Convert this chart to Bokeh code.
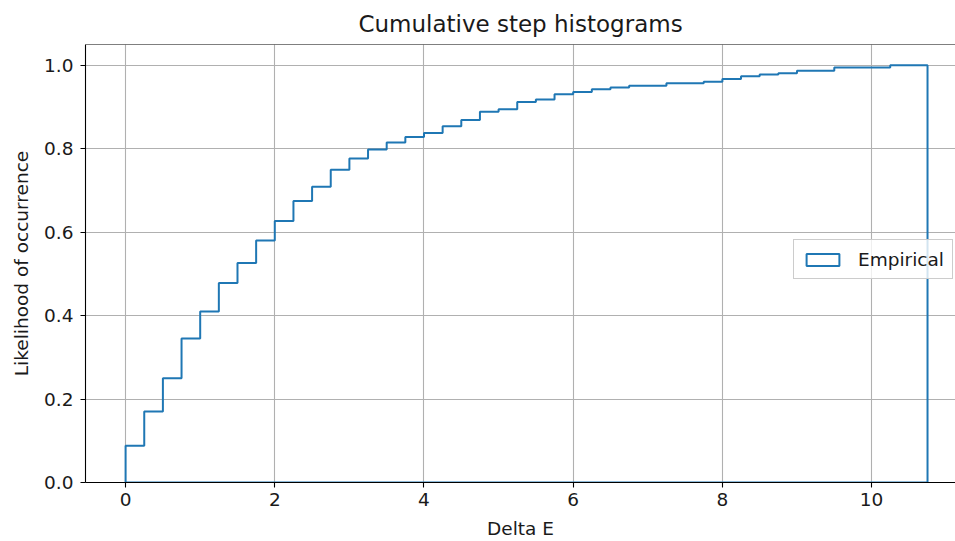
import numpy as np
from bokeh.plotting import figure
from bokeh.models import Range1d, Span, Legend, LegendItem, ColumnDataSource, FixedTicker
from bokeh.embed import file_html
from bokeh.resources import INLINE

# bin edges (width 0.25) and cumulative likelihood per bin
bin_edges = [i * 0.25 for i in range(44)]  # 0 .. 10.75
cum_values = [
    0.088, 0.170, 0.250, 0.345, 0.410, 0.478, 0.526, 0.580,
    0.627, 0.675, 0.709, 0.750, 0.777, 0.798, 0.815, 0.828,
    0.838, 0.854, 0.869, 0.889, 0.895, 0.912, 0.918, 0.931,
    0.936, 0.943, 0.947, 0.951, 0.951, 0.957, 0.957, 0.961,
    0.967, 0.974, 0.978, 0.981, 0.987, 0.987, 0.995, 0.995,
    0.995, 1.000, 1.000,
]
x_ticks = [0, 2, 4, 6, 8, 10]
y_ticks = [0.0, 0.2, 0.4, 0.6, 0.8, 1.0]

BLUE = "#1f77b4"
FONT = "DejaVu Sans"
TXT = "#1a1a1a"

edges = np.array(bin_edges)
vals = np.array(cum_values)
xs = np.repeat(edges, 2)
ys = np.concatenate([[0.0], np.repeat(vals, 2), [0.0]])

p = figure(width=955, height=541, output_backend="svg", toolbar_location=None,
           x_range=Range1d(-0.5375, 11.125), y_range=Range1d(0, 1.05),
           min_border_left=85, min_border_right=0, min_border_top=44, min_border_bottom=58)
p.outline_line_color = None
p.background_fill_color = "white"
p.border_fill_color = "white"

p.title.text = "Cumulative step histograms"
p.title.align = "center"
p.title.text_font = FONT
p.title.text_font_size = "23px"
p.title.text_font_style = "normal"
p.title.text_color = TXT
p.title.standoff = 15

src = ColumnDataSource(dict(x=xs, y=ys))
hist_r = p.patch("x", "y", source=src, fill_alpha=0, line_color=BLUE, line_width=2)

p.add_layout(Span(location=1.05, dimension="width", line_color="black", line_width=1.1))

for ax in (p.xaxis[0], p.yaxis[0]):
    ax.axis_line_color = "black"
    ax.axis_line_width = 1.1
    ax.major_tick_out = 5
    ax.major_tick_in = 0
    ax.minor_tick_out = 0
    ax.minor_tick_in = 0
    ax.major_tick_line_color = "black"
    ax.major_tick_line_width = 1.1
    ax.major_label_text_font = FONT
    ax.major_label_text_font_size = "18.5px"
    ax.major_label_text_color = TXT
    ax.axis_label_text_font = FONT
    ax.axis_label_text_font_size = "18.5px"
    ax.axis_label_text_font_style = "normal"
    ax.axis_label_text_color = TXT

p.xaxis.ticker = FixedTicker(ticks=x_ticks)
p.yaxis.ticker = FixedTicker(ticks=y_ticks)
p.yaxis.major_label_overrides = {v: f"{v:.1f}" for v in y_ticks}
p.xaxis.axis_label = "Delta E"
p.yaxis.axis_label = "Likelihood of occurrence"
p.xaxis.major_label_standoff = 5
p.yaxis.major_label_standoff = 7
p.xaxis.axis_label_standoff = 9
p.yaxis.axis_label_standoff = 9

p.xgrid.ticker = FixedTicker(ticks=x_ticks)
p.ygrid.ticker = FixedTicker(ticks=y_ticks)
for g in (p.xgrid[0], p.ygrid[0]):
    g.grid_line_color = "#b0b0b0"
    g.grid_line_width = 1.1

legend = Legend(items=[LegendItem(label="Empirical", renderers=[hist_r])],
                location=(708, 203))
legend.label_text_font = FONT
legend.label_text_font_size = "18.5px"
legend.label_text_color = TXT
legend.border_line_color = "#cccccc"
legend.border_line_alpha = 1
legend.background_fill_alpha = 0.8
legend.glyph_width = 41
legend.glyph_height = 15
legend.label_height = 22
legend.padding = 8
legend.margin = 0
legend.spacing = 0
legend.label_standoff = 15
p.add_layout(legend, "center")

open("out.html", "w").write(file_html(p, INLINE))
